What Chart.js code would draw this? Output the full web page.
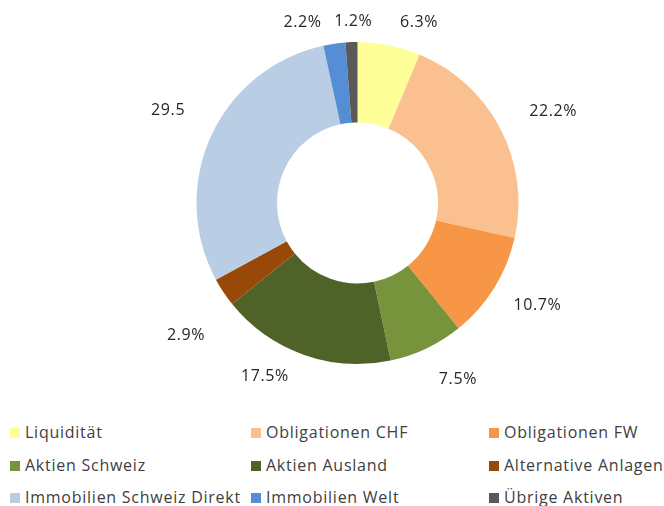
<!DOCTYPE html>
<html>
<head>
<meta charset="utf-8">
<script src="https://cdn.jsdelivr.net/npm/chart.js@4"></script>
<style>
  html, body { margin: 0; padding: 0; background: #fff; }
  body { width: 664px; height: 506px; overflow: hidden; font-family: 'Open Sans', sans-serif; }
  #wrap { position: relative; width: 664px; height: 410px; }
  #legend { position: absolute; left: 0; top: 422px; width: 664px; }
  .item { position: absolute; font-size: 16px; letter-spacing: 0.75px; color: #404040; white-space: nowrap; line-height: 20px; }
  .item span.box { display: inline-block; width: 10px; height: 10px; margin-right: 5px; vertical-align: 0px; }
</style>
</head>
<body>
<div id="wrap"><canvas id="pie"></canvas></div>
<div id="legend"></div>
<script>
const categories = ['Liquidität', 'Obligationen CHF', 'Obligationen FW', 'Aktien Schweiz', 'Aktien Ausland',
    'Alternative Anlagen', 'Immobilien Schweiz Direkt', 'Immobilien Welt', 'Übrige Aktiven'];
const shares = [6.3, 22.2, 10.7, 7.5, 17.5, 2.9, 29.5, 2.2, 1.2];
const valueLabels = ['6.3%', '22.2%', '10.7%', '7.5%', '17.5%', '2.9%', '29.5', '2.2%', '1.2%'];
const colors = ['#FFFF99', '#FAC090', '#F79646', '#77933C', '#4F6228', '#984807', '#B9CDE5', '#558ED5', '#595959'];

// labels outside the ring, Excel style
const outsideLabels = {
    id: 'outsideLabels',
    afterDatasetsDraw(chart, args, opts) {
        const ctx = chart.ctx;
        const meta = chart.getDatasetMeta(0);
        ctx.save();
        ctx.font = '16px "Open Sans", sans-serif';
        ctx.letterSpacing = '0.6px';
        ctx.fillStyle = '#262626';
        ctx.textAlign = 'center';
        ctx.textBaseline = 'middle';
        meta.data.forEach((arc, i) => {
            const p = arc.getProps(['x', 'y', 'startAngle', 'endAngle', 'outerRadius'], true);
            const nudge = opts.nudge[i] || { da: 0, dr: 0 };
            const a = (p.startAngle + p.endAngle) / 2 + nudge.da * Math.PI / 180;
            const txt = valueLabels[i];
            const w = ctx.measureText(txt).width;
            const h = 16;
            const dist = p.outerRadius + opts.gap + (w / 2) * Math.abs(Math.cos(a)) + (h / 2) * Math.abs(Math.sin(a)) + nudge.dr;
            ctx.fillText(txt, p.x + Math.cos(a) * dist, p.y + Math.sin(a) * dist);
        });
        ctx.restore();
    }
};

const chart = new Chart(document.getElementById('pie'), {
    type: 'doughnut',
    data: {
        labels: categories,
        datasets: [{
            data: shares,
            backgroundColor: colors,
            borderWidth: 0
        }]
    },
    options: {
        responsive: true,
        maintainAspectRatio: false,
        animation: false,
        cutout: '50%',
        layout: { padding: { left: 61, right: 10, top: 42, bottom: 46 } },
        plugins: {
            legend: { display: false },
            tooltip: { enabled: false },
            outsideLabels: {
                gap: 26,
                nudge: {
                    0: { da: 7.5, dr: -10 },
                    1: { da: 2.2, dr: 4 },
                    2: { da: -2.3, dr: -5 },
                    3: { da: -4.2, dr: 0 },
                    4: { da: 8.5, dr: -9 },
                    5: { da: -4.1, dr: 10 },
                    6: { da: 1.4, dr: 5 },
                    7: { da: -8.6, dr: -11 },
                    8: { da: 0.8, dr: -14 }
                }
            }
        }
    },
    plugins: [outsideLabels]
});

// legend in three columns
const colX = [10, 251, 489];
const rowY = [0, 33, 65];
const legend = document.getElementById('legend');
chart.options.plugins.legend.labels.generateLabels(chart).forEach((item, i) => {
    const el = document.createElement('div');
    el.className = 'item';
    el.style.left = colX[i % 3] + 'px';
    el.style.top = rowY[Math.floor(i / 3)] + 'px';
    const box = document.createElement('span');
    box.className = 'box';
    box.style.background = item.fillStyle;
    el.appendChild(box);
    el.appendChild(document.createTextNode(item.text));
    legend.appendChild(el);
});
</script>
</body>
</html>
